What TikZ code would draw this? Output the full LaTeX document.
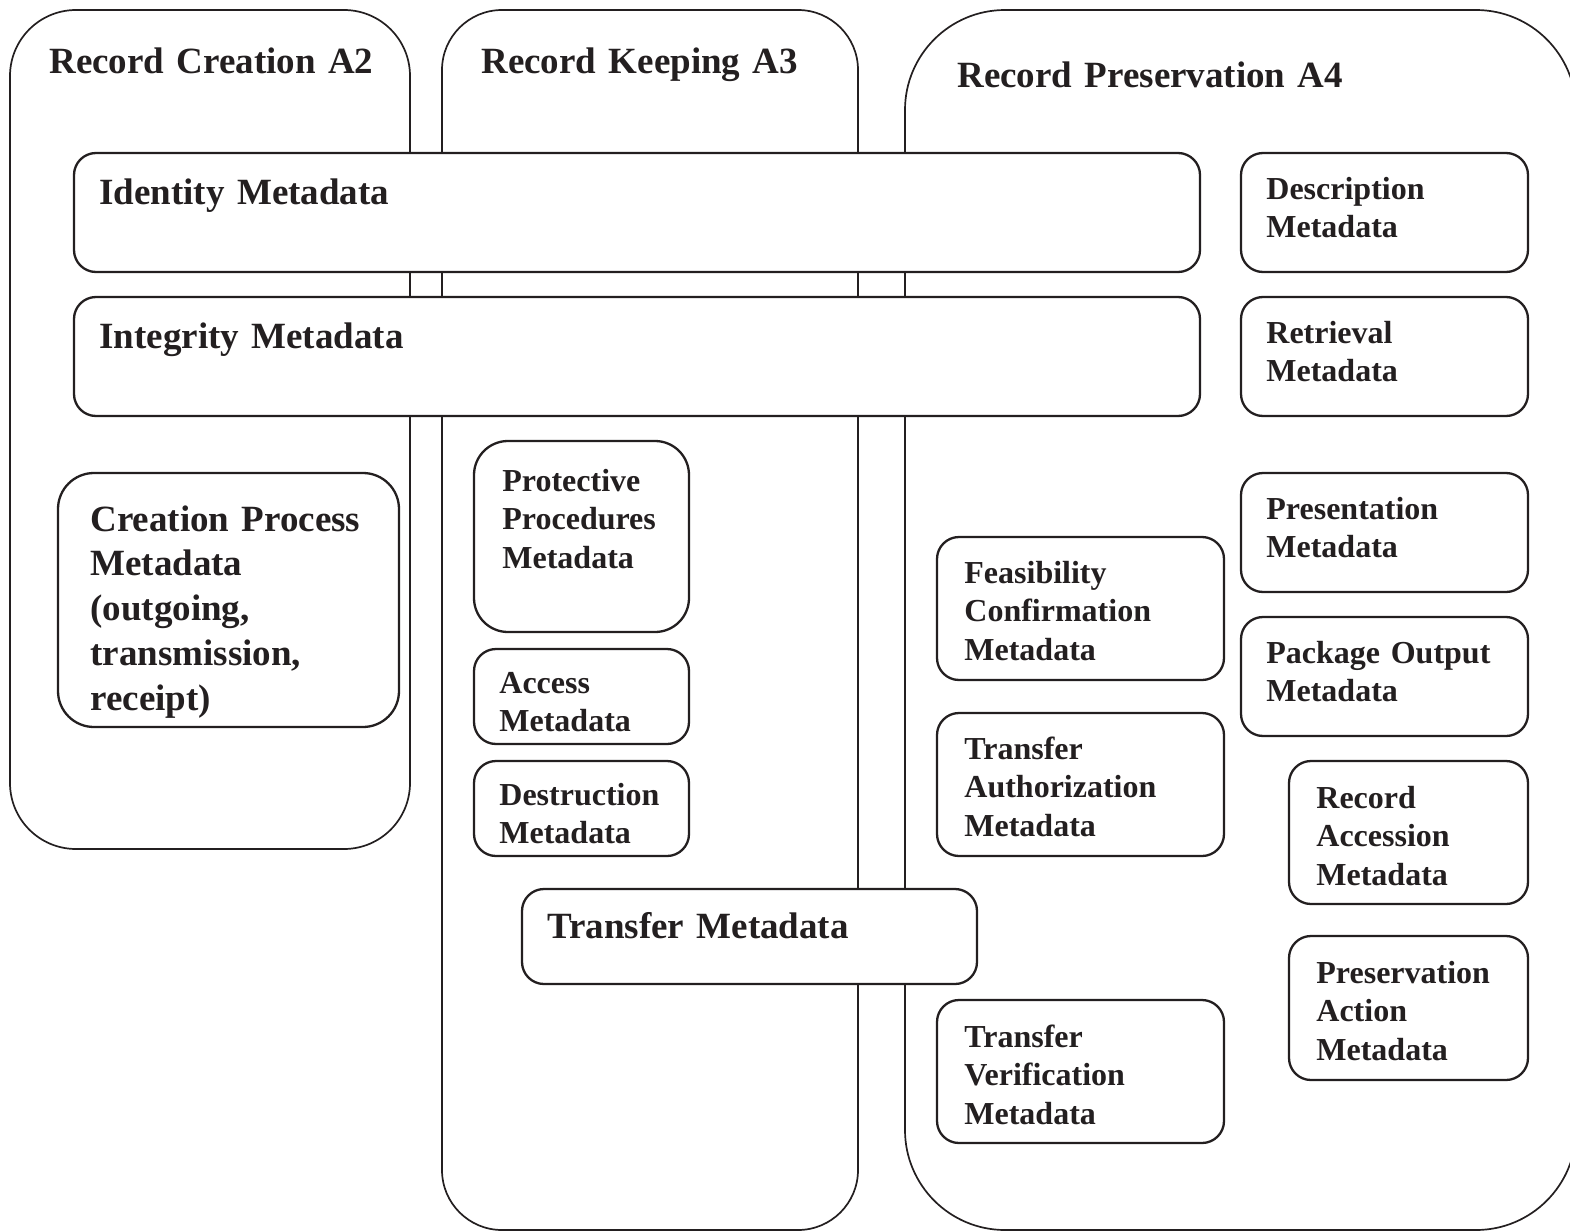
\documentclass[tikz,border=0pt]{standalone}
\usepackage{fontspec}
\setmainfont{Liberation Serif}
\usepackage{tikz}
\definecolor{ink}{HTML}{231F20}

\begin{document}
\begin{tikzpicture}[x=0.5pt,y=-0.5pt,
  lane/.style={draw=ink, line width=0.85pt, rounded corners=31pt},
  mbox/.style={draw=ink, fill=white, line width=1.15pt, rounded corners=11pt},
  bigtxt/.style={anchor=base west, inner sep=0pt, text=ink, align=left, text width=200pt,
    font=\bfseries\fontsize{18.5}{22.4}\selectfont},
  smalltxt/.style={anchor=base west, inner sep=0pt, text=ink, align=left, text width=140pt,
    font=\bfseries\fontsize{16}{19.3}\selectfont}]
\useasboundingbox (0,0) rectangle (1570,1231);
% the three lanes
\draw[lane, rounded corners=33pt] (10,10) rectangle (410,849);
\draw[lane, rounded corners=30pt] (442,10) rectangle (858,1230);
\draw[lane, rounded corners=50pt] (905,10) rectangle (1576,1230);
\draw (49,73) node[bigtxt] (creation) {Record Creation A2};
\draw (481,73) node[bigtxt] (keeping) {Record Keeping A3};
\draw (957,87) node[bigtxt] (preservation) {Record Preservation A4};
% wide boxes
\draw[mbox] (74,153) rectangle (1200,272);
\draw (99,204) node[bigtxt] (identity) {Identity Metadata};
\draw[mbox] (74,297) rectangle (1200,416);
\draw (99,348) node[bigtxt] (integrity) {Integrity Metadata};
\draw[mbox] (522,889) rectangle (977,984);
\draw (547,938) node[bigtxt] (transfer) {Transfer Metadata};
% record creation
\draw[mbox, rounded corners=18pt] (58,473) rectangle (399,727);
\draw (90,531) node[bigtxt] (process) {Creation Process\\Metadata\\(outgoing,\\transmission,\\receipt)};
% record keeping
\draw[mbox, rounded corners=17pt] (474,441) rectangle (689,632);
\draw (502,491) node[smalltxt] (protective) {Protective\\Procedures\\Metadata};
\draw[mbox] (474,649) rectangle (689,744);
\draw (499,693) node[smalltxt] (access) {Access\\Metadata};
\draw[mbox] (474,761) rectangle (689,856);
\draw (499,805) node[smalltxt] (destruction) {Destruction\\Metadata};
% record preservation
\draw[mbox] (1241,153) rectangle (1528,272);
\draw (1266,199) node[smalltxt] (description) {Description\\Metadata};
\draw[mbox] (1241,297) rectangle (1528,416);
\draw (1266,343) node[smalltxt] (retrieval) {Retrieval\\Metadata};
\draw[mbox] (1241,473) rectangle (1528,592);
\draw (1266,519) node[smalltxt] (presentation) {Presentation\\Metadata};
\draw[mbox] (1241,617) rectangle (1528,736);
\draw (1266,663) node[smalltxt] (package) {Package Output\\Metadata};
\draw[mbox] (1289,761) rectangle (1528,904);
\draw (1316,808) node[smalltxt] (accession) {Record\\Accession\\Metadata};
\draw[mbox] (1289,936) rectangle (1528,1080);
\draw (1316,983) node[smalltxt] (action) {Preservation\\Action\\Metadata};
\draw[mbox] (937,537) rectangle (1224,680);
\draw (964,583) node[smalltxt] (feasibility) {Feasibility\\Confirmation\\Metadata};
\draw[mbox] (937,713) rectangle (1224,856);
\draw (964,759) node[smalltxt] (authorization) {Transfer\\Authorization\\Metadata};
\draw[mbox] (937,1000) rectangle (1224,1143);
\draw (964,1047) node[smalltxt] (verification) {Transfer\\Verification\\Metadata};
\end{tikzpicture}
\end{document}
